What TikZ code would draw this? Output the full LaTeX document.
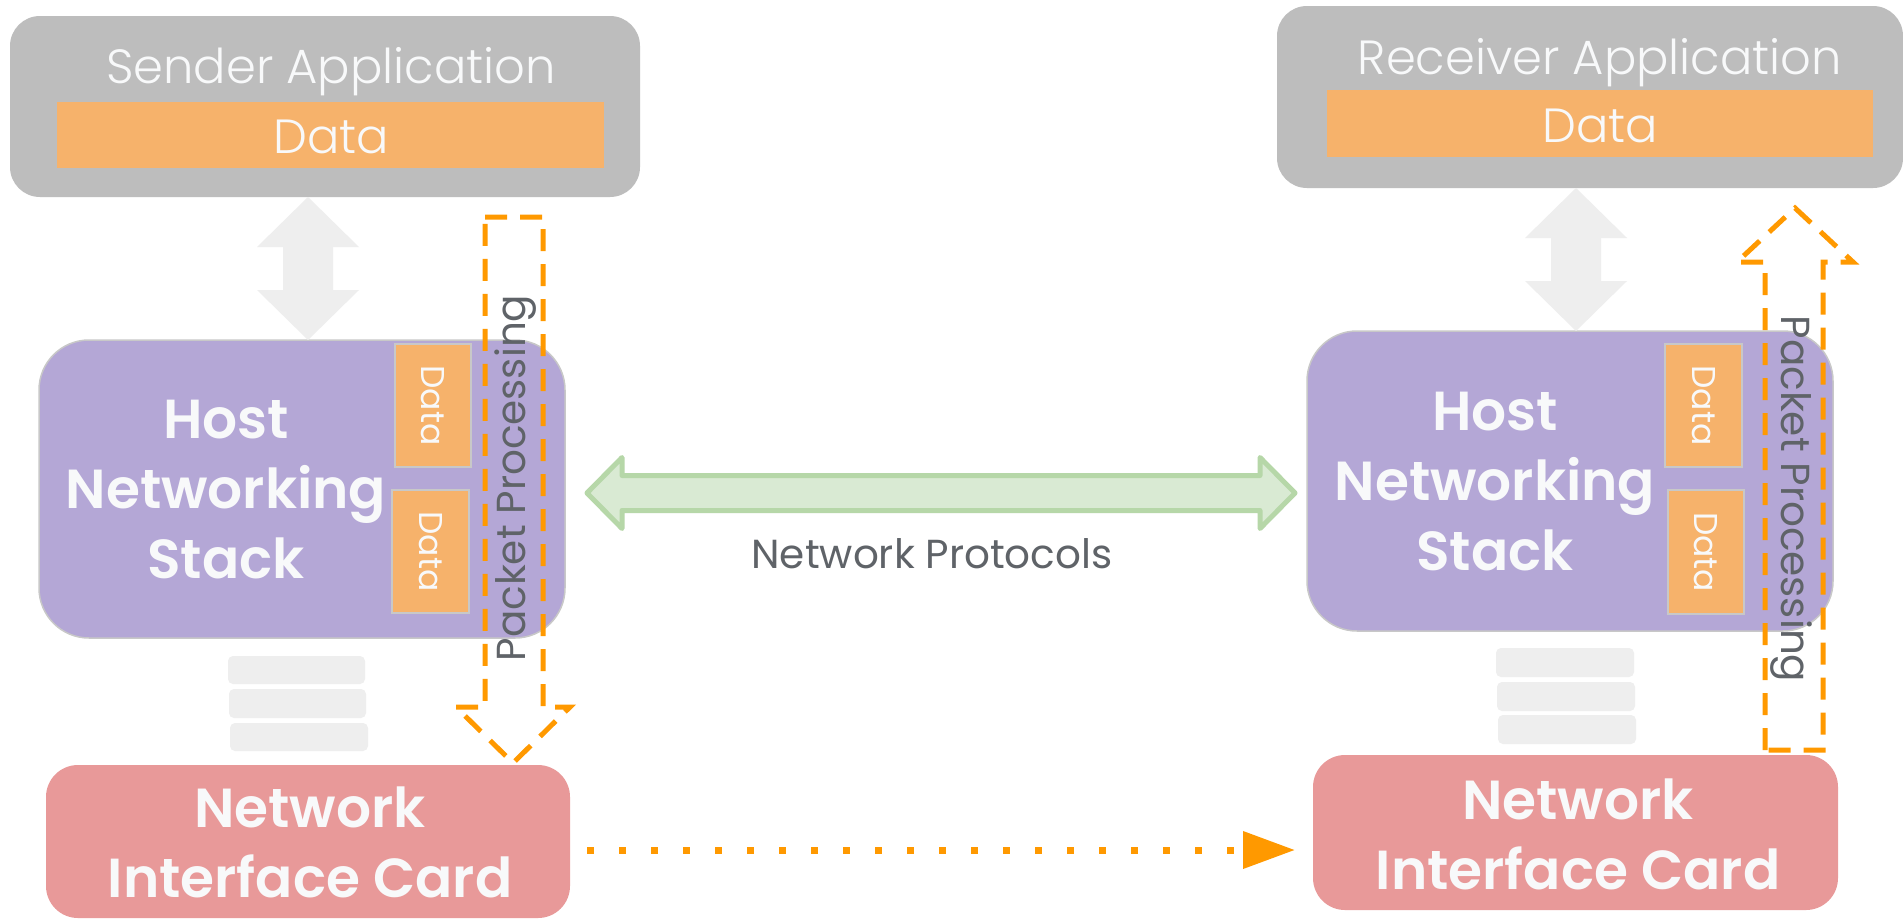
\documentclass[tikz,border=0pt]{standalone}
\usepackage{fontspec}
\setmainfont{Poppins}[BoldFont={Poppins SemiBold}]
\newfontfamily\lightface{Poppins Light}
\usetikzlibrary{arrows.meta,calc}

\definecolor{appgrey}{HTML}{BDBDBD}
\definecolor{dataorange}{HTML}{F6B26B}
\definecolor{lavender}{HTML}{B4A7D6}
\definecolor{nicpink}{HTML}{E89999}
\definecolor{paletext}{HTML}{F8F9FA}
\definecolor{liftgrey}{HTML}{EEEEEE}
\definecolor{procorange}{HTML}{FF9900}
\definecolor{protofill}{HTML}{D9EAD3}
\definecolor{protoedge}{HTML}{B6D7A8}
\definecolor{inktext}{HTML}{5F6368}
\definecolor{edgegrey}{HTML}{C8C8C8}

\begin{document}
\begin{tikzpicture}[x=1pt,y=-1pt,
  every node/.style={inner sep=0pt, outer sep=0pt},
  appbox/.style={fill=appgrey, rounded corners=30pt},
  databar/.style={fill=dataorange},
  stackbox/.style={fill=lavender, draw=edgegrey, line width=1.5pt, rounded corners=50pt},
  cell/.style={fill=dataorange, draw=edgegrey, line width=1.5pt},
  nicbox/.style={fill=nicpink, rounded corners=32pt},
  slab/.style={fill=liftgrey, rounded corners=5pt},
  lift/.style={fill=liftgrey},
  titletext/.style={text=paletext, font=\lightface\fontsize{48}{52}\selectfont},
  hosttext/.style={text=paletext, align=center, font=\bfseries\fontsize{55}{70}\selectfont},
  celltext/.style={text=paletext, font=\fontsize{33}{36}\selectfont},
  labeltext/.style={text=inktext, font=\fontsize{40.5}{44}\selectfont},
  procpath/.style={draw=procorange, line width=5pt, dash pattern=on 22pt off 13pt, line join=miter},
  protocol/.style={fill=protofill, draw=protoedge, line width=5pt, line join=round},
  wire/.style={draw=procorange, line width=7pt, dash pattern=on 7pt off 25pt,
    -{Triangle[length=52pt,width=36pt]}},
]
\useasboundingbox (0,0) rectangle (1903,919);
\fill[white] (0,0) rectangle (1903,919);

% ---------------- sending host ----------------
\node[appbox, anchor=north west, minimum width=630pt, minimum height=181pt] (sendapp) at (10,16) {};
\node[databar, anchor=north west, minimum width=547pt, minimum height=66pt] (senddata) at (57,102) {};
\node[titletext, anchor=base] (sendtitle) at (331,83) {Sender Application};
\node[titletext, anchor=base] (senddatatext) at (331,153) {Data};

\node[stackbox, anchor=north west, minimum width=526pt, minimum height=298pt] (hostL) at (39,340) {};
\node[cell, anchor=north west, minimum width=76pt, minimum height=123pt] (cellLa) at (395,344) {};
\node[cell, anchor=north west, minimum width=77pt, minimum height=123pt] (cellLb) at (392,490) {};
\node[celltext, rotate=-90] (cellLatext) at (cellLa.center) {Data};
\node[celltext, rotate=-90] (cellLbtext) at (cellLb.center) {Data};
\node[hosttext] (hostLtext) at (226,490) {Host\\Networking\\Stack};

\node[slab, anchor=north west, minimum width=137pt, minimum height=28pt] (slabLa) at (228,656) {};
\node[slab, anchor=north west, minimum width=137pt, minimum height=29pt] (slabLb) at (229,689) {};
\node[slab, anchor=north west, minimum width=138pt, minimum height=28pt] (slabLc) at (230,723) {};

\node[nicbox, anchor=north west, minimum width=524pt, minimum height=153pt] (nicL) at (46,765) {};
\node[hosttext] (nicLtext) at (310,842) {Network\\Interface Card};

% app <-> stack exchange
\fill[lift] let \p1=(sendapp.south), \p2=(hostL.north) in
  (\x2+6pt,\y1) -- (\x2+57pt,\y1-50pt) -- (\x2+31pt,\y1-50pt) -- (\x2+31pt,\y2+50pt)
  -- (\x2+57pt,\y2+50pt) -- (\x2+6pt,\y2) -- (\x2-45pt,\y2+50pt) -- (\x2-19pt,\y2+50pt)
  -- (\x2-19pt,\y1-50pt) -- (\x2-45pt,\y1-50pt) -- cycle;

% ---------------- receiving host ----------------
\node[appbox, anchor=north west, minimum width=626pt, minimum height=182pt] (recvapp) at (1277,6) {};
\node[databar, anchor=north west, minimum width=546pt, minimum height=67pt] (recvdata) at (1327,90) {};
\node[titletext, anchor=base] (recvtitle) at (1600,74) {Receiver Application};
\node[titletext, anchor=base] (recvdatatext) at (1600,142) {Data};

\node[stackbox, anchor=north west, minimum width=526pt, minimum height=300pt] (hostR) at (1307,331) {};
\node[cell, anchor=north west, minimum width=77pt, minimum height=123pt] (cellRa) at (1665,344) {};
\node[cell, anchor=north west, minimum width=76pt, minimum height=124pt] (cellRb) at (1668,490) {};
\node[celltext, rotate=-90] (cellRatext) at (cellRa.center) {Data};
\node[celltext, rotate=-90] (cellRbtext) at (cellRb.center) {Data};
\node[hosttext] (hostRtext) at (1495,482) {Host\\Networking\\Stack};

\node[slab, anchor=north west, minimum width=138pt, minimum height=29pt] (slabRa) at (1496,648) {};
\node[slab, anchor=north west, minimum width=138pt, minimum height=29pt] (slabRb) at (1497,682) {};
\node[slab, anchor=north west, minimum width=138pt, minimum height=29pt] (slabRc) at (1498,715) {};

\node[nicbox, anchor=north west, minimum width=525pt, minimum height=155pt] (nicR) at (1313,755) {};
\node[hosttext] (nicRtext) at (1578,834) {Network\\Interface Card};

\fill[lift] let \p1=(recvapp.south), \p2=(hostR.north) in
  (\x2+6pt,\y1) -- (\x2+57pt,\y1-50pt) -- (\x2+31pt,\y1-50pt) -- (\x2+31pt,\y2+50pt)
  -- (\x2+57pt,\y2+50pt) -- (\x2+6pt,\y2) -- (\x2-45pt,\y2+50pt) -- (\x2-19pt,\y2+50pt)
  -- (\x2-19pt,\y1-50pt) -- (\x2-45pt,\y1-50pt) -- cycle;

% ---------------- packet processing paths ----------------
\draw[procpath] (485,217) -- (543,217) -- (543,707) -- (570,707) -- (513,763)
  -- (456,707) -- (485,707) -- cycle;
\node[labeltext, rotate=90] (procL) at (516,478) {Packet Processing};

\draw[procpath] (1765,750) -- (1765,262) -- (1737,262) -- (1795,208) -- (1853,262)
  -- (1823,262) -- (1823,750) -- cycle;
\node[labeltext, rotate=-90] (procR) at (1791,499) {Packet Processing};

% ---------------- protocol exchange between the stacks ----------------
\path[protocol] let \p1=(hostL.east), \p2=(hostR.west) in
  (\x1+22pt,-493pt) -- (\x1+57pt,-457.5pt) -- (\x1+57pt,-475.5pt) -- (\x2-47pt,-475.5pt)
  -- (\x2-47pt,-457.5pt) -- (\x2-12pt,-493pt) -- (\x2-47pt,-528.5pt) -- (\x2-47pt,-510.5pt)
  -- (\x1+57pt,-510.5pt) -- (\x1+57pt,-528.5pt) -- cycle;
\node[labeltext, anchor=base] (protolabel) at (932,568) {Network Protocols};

% ---------------- wire between the cards ----------------
\draw[wire] let \p1=(nicL.east), \p2=(nicR.west) in (\x1+17pt,-850pt) -- (\x2-18pt,-850pt);
\end{tikzpicture}
\end{document}
